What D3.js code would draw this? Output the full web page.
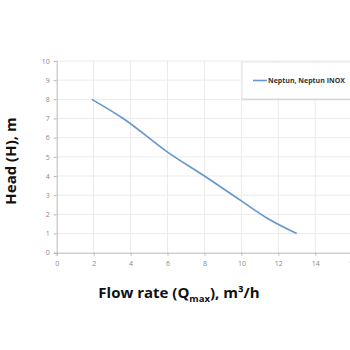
<!DOCTYPE html>
<html><head><meta charset="utf-8">
<script src="https://cdn.jsdelivr.net/npm/d3@7"></script>
<style>html,body{margin:0;padding:0;background:#fff;overflow:hidden}svg{display:block}</style>
</head><body>
<svg id="c" width="350" height="350"></svg>
<script>
const flowRate = [1.9, 3.6, 6, 8, 10, 11.4, 13];
const head = [8, 7, 5.25, 4, 2.7, 1.8, 1];
const xTicks = [0, 2, 4, 6, 8, 10, 12, 14, 16];
const yTicks = [0, 1, 2, 3, 4, 5, 6, 7, 8, 9, 10];
const seriesName = "Neptun, Neptun INOX";

const svg = d3.select("#c");
const x = d3.scaleLinear().domain([0, 16]).range([56.7, 352.2]);
const y = d3.scaleLinear().domain([0, 10]).range([252.7, 61]);

// grid
svg.append("g").selectAll("line").data(yTicks.filter(d => d > 0)).join("line")
  .attr("x1", x(0)).attr("x2", 350).attr("y1", d => y(d)).attr("y2", d => y(d))
  .attr("stroke", "#ebebeb").attr("stroke-width", 1);
svg.append("g").selectAll("line").data(xTicks.filter(d => d > 0)).join("line")
  .attr("y1", y(0)).attr("y2", y(10)).attr("x1", d => x(d)).attr("x2", d => x(d))
  .attr("stroke", "#ebebeb").attr("stroke-width", 1);

// axes
const xAxis = svg.append("g").attr("transform", `translate(0,${y(0)})`)
  .call(d3.axisBottom(x).tickValues(xTicks).tickSize(3).tickPadding(5).tickFormat(d3.format("d")));
const yAxis = svg.append("g").attr("transform", `translate(${x(0)},0)`)
  .call(d3.axisLeft(y).tickValues(yTicks).tickSize(3).tickPadding(4).tickFormat(d3.format("d")));
[xAxis, yAxis].forEach(a => {
  a.select(".domain").attr("stroke", "#b8b8b8");
  a.selectAll(".tick line").attr("stroke", "#b8b8b8");
  a.selectAll("text").attr("fill", "#888").style("font-family", "Open Sans").style("font-size", "7px");
});

// line
const pts = flowRate.map((d, i) => [d, head[i]]);
svg.append("path").datum(pts)
  .attr("d", d3.line().x(d => x(d[0])).y(d => y(d[1])).curve(d3.curveMonotoneX))
  .attr("fill", "none").attr("stroke", "#6497cc").attr("stroke-width", 1.6);

// legend
svg.append("rect").attr("x", 242).attr("y", 62).attr("width", 120).attr("height", 37)
  .attr("fill", "#fff").attr("stroke", "#e6e6e6").attr("stroke-width", 1);
svg.append("line").attr("x1", 242).attr("x2", 350).attr("y1", 99.5).attr("y2", 99.5)
  .attr("stroke", "#d8d8d8").attr("stroke-width", 1.5);
svg.append("line").attr("x1", 253).attr("x2", 267).attr("y1", 80.5).attr("y2", 80.5)
  .attr("stroke", "#6497cc").attr("stroke-width", 1.6);
svg.append("text").attr("x", 268).attr("y", 83).text(seriesName)
  .attr("fill", "#333").style("font-family", "Open Sans").style("font-weight", "bold").style("font-size", "7px");

// axis titles
svg.append("text").attr("transform", "translate(16,161) rotate(-90)").attr("text-anchor", "middle")
  .text("Head (H), m").attr("fill", "#111")
  .style("font-family", "Open Sans").style("font-weight", "bold").style("font-size", "15px");
const t = svg.append("text").attr("x", 179).attr("y", 298).attr("text-anchor", "middle")
  .attr("fill", "#111").style("font-family", "Open Sans").style("font-weight", "bold").style("font-size", "15px");
t.append("tspan").text("Flow rate (Q");
t.append("tspan").text("max").attr("dy", 4).style("font-size", "9.5px");
t.append("tspan").text("), m³/h").attr("dy", -4);
</script>
</body></html>
